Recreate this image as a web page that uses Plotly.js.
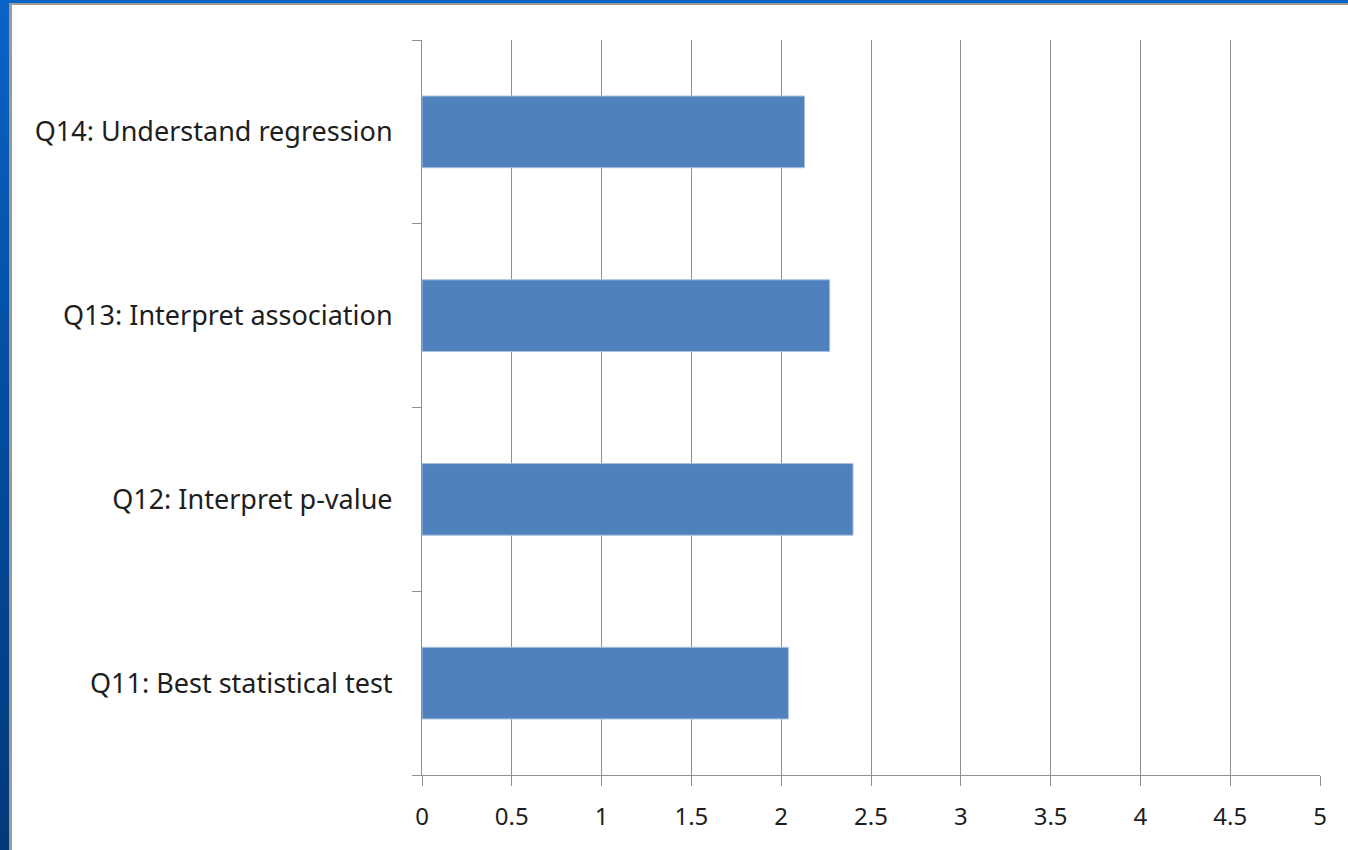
<!DOCTYPE html>
<html>
<head>
<meta charset="utf-8">
<script src="https://cdn.plot.ly/plotly-3.0.1.min.js"></script>
<style>
  html, body { margin: 0; padding: 0; width: 1348px; height: 850px; overflow: hidden;
    background: linear-gradient(to bottom, #0a63c6 0%, #0450a6 40%, #02397a 100%); }
  #frame { position: absolute; left: 9px; top: 3px; width: 1339px; height: 847px;
    background: #9a9a9a; }
  #chart { position: absolute; left: 12px; top: 5px; width: 1336px; height: 845px; background: #fff; }
</style>
</head>
<body>
<div id="frame"></div>
<div id="chart"></div>
<script>
const categories = ["Q11: Best statistical test", "Q12: Interpret p-value", "Q13: Interpret association", "Q14: Understand regression"];
const values = [2.04, 2.40, 2.27, 2.13];
const xTickVals = [0, 0.5, 1, 1.5, 2, 2.5, 3, 3.5, 4, 4.5, 5];
const xTickText = ["0", "0.5", "1", "1.5", "2", "2.5", "3", "3.5", "4", "4.5", "5"];

const trace = {
  type: "bar",
  orientation: "h",
  y: categories,
  x: values,
  width: 0.39,
  marker: { color: "#4f81bd", line: { color: "#a9c1df", width: 1 } },
  hoverinfo: "x+y"
};

const tf = { family: "Noto Sans, sans-serif", size: 27, color: "#1e1e1e" };

const layout = {
  width: 1336,
  height: 845,
  margin: { l: 410, r: 28, t: 35, b: 75 },
  paper_bgcolor: "#ffffff",
  plot_bgcolor: "#ffffff",
  showlegend: false,
  font: tf,
  xaxis: {
    range: [0, 5],
    tickvals: xTickVals,
    ticktext: xTickText,
    showgrid: true,
    gridcolor: "#8f8f8f",
    gridwidth: 1,
    zeroline: false,
    showline: true,
    linecolor: "#8f8f8f",
    linewidth: 1,
    ticks: "outside",
    ticklen: 10,
    tickcolor: "#8f8f8f",
    tickfont: { family: "Noto Sans, sans-serif", size: 24, color: "#1e1e1e" },
    ticklabelstandoff: 10,
    fixedrange: true
  },
  yaxis: {
    type: "category",
    categoryorder: "array",
    categoryarray: categories,
    showgrid: false,
    zeroline: false,
    showline: true,
    linecolor: "#8f8f8f",
    linewidth: 1,
    ticks: "outside",
    tickson: "boundaries",
    ticklen: 9,
    tickcolor: "#8f8f8f",
    tickfont: tf,
    ticklabelstandoff: 23,
    fixedrange: true
  }
};

Plotly.newPlot("chart", [trace], layout, { displayModeBar: false, staticPlot: true });
</script>
</body>
</html>
